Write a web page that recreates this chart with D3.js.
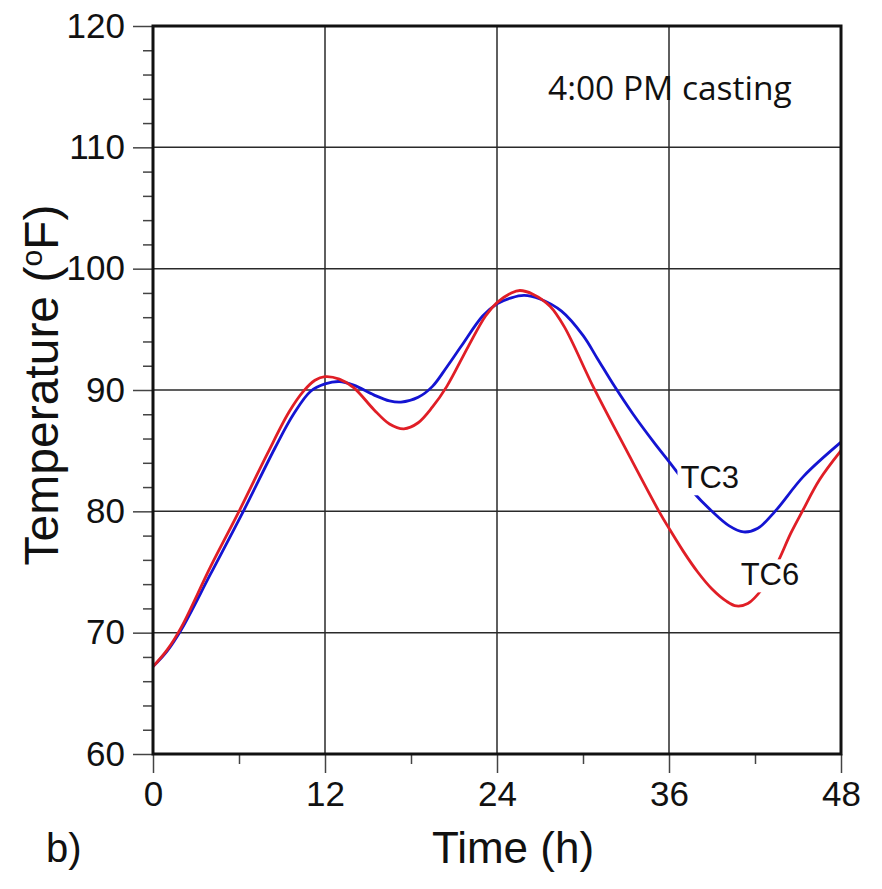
<!DOCTYPE html>
<html><head><meta charset="utf-8">
<script src="https://cdn.jsdelivr.net/npm/d3@7"></script>
<style>body{margin:0;background:#fff}</style></head>
<body>
<svg id="chart" width="882" height="889"></svg>
<script>
// ---- data ----
const timeTC3 = [0, 1, 2, 4, 6.3, 8.5, 9.8, 11, 12, 13, 14, 15.4, 16.5, 17.3, 18.5, 19.5, 20.5, 21.5, 23, 24, 25, 25.9, 27, 28.5, 30, 31, 32.2, 33.5, 35, 36, 37.6, 39, 40.2, 41.2, 42.2, 43.4, 45.4, 48];
const tempTC3 = [67.2, 68.5, 70.3, 74.8, 80, 85.2, 88.0, 89.9, 90.5, 90.7, 90.4, 89.6, 89.1, 89.0, 89.4, 90.3, 91.9, 93.6, 96.1, 97.1, 97.6, 97.8, 97.5, 96.5, 94.5, 92.6, 90.3, 88.0, 85.6, 84.1, 81.7, 80.0, 78.8, 78.3, 78.6, 80, 82.9, 85.7];
const timeTC6 = [0, 1, 2, 4, 6, 8, 9.5, 10.5, 11.3, 12, 13, 14, 15.4, 16.5, 17.5, 18.5, 19.5, 20.5, 22, 23.2, 24, 25, 25.6, 26.5, 27.7, 28.7, 30.7, 33, 35.3, 36, 37, 38, 39, 40, 40.7, 41.5, 42.5, 43.5, 44.5, 45.3, 46.5, 48];
const tempTC6 = [67.2, 68.6, 70.5, 75.4, 80, 84.8, 88.2, 89.9, 90.8, 91.1, 90.9, 90.2, 88.4, 87.2, 86.8, 87.3, 88.6, 90.3, 93.6, 96.1, 97.2, 98.0, 98.2, 97.9, 96.9, 95.2, 90.3, 85.1, 80, 78.6, 76.7, 75.0, 73.6, 72.6, 72.2, 72.4, 73.6, 75.6, 78.2, 80, 82.6, 85.0];
const seriesNames = ["TC3", "TC6"];
const seriesColors = ["#1414d2", "#e01e26"];
const xTickValues = [0, 12, 24, 36, 48];
const xMinorTicks = [6, 18, 30, 42];
const yTickValues = [60, 70, 80, 90, 100, 110, 120];
const yMinorTicks = [62,64,66,68,72,74,76,78,82,84,86,88,92,94,96,98,102,104,106,108,112,114,116,118];
const xTitle = "Time (h)";
const yTitle = "Temperature (";
const annotation = "4:00 PM casting";
const panelLabel = "b)";

// ---- layout ----
const svg = d3.select("#chart");
const L = 153, T = 26, R = 841, B = 754;
const x = d3.scaleLinear().domain([0, 48]).range([L, R]);
const y = d3.scaleLinear().domain([60, 120]).range([B, T]);
const font = "'Liberation Sans', Arial, Helvetica, sans-serif";

// grid
const g = svg.append("g");
g.selectAll(".vg").data(xTickValues.slice(1, -1)).join("line")
  .attr("x1", d => x(d)).attr("x2", d => x(d)).attr("y1", T).attr("y2", B)
  .attr("stroke", "#2a2a2a").attr("stroke-width", 1.5);
g.selectAll(".hg").data(yTickValues.slice(1, -1)).join("line")
  .attr("x1", L).attr("x2", R).attr("y1", d => y(d)).attr("y2", d => y(d))
  .attr("stroke", "#2a2a2a").attr("stroke-width", 1.5);

// axes (outside ticks)
const xAxis = svg.append("g").attr("transform", `translate(0,${B})`)
  .call(d3.axisBottom(x).tickValues(xTickValues).tickSize(19).tickPadding(8).tickFormat(d3.format("d")));
const xMinor = svg.append("g").attr("transform", `translate(0,${B})`)
  .call(d3.axisBottom(x).tickValues(xMinorTicks).tickSize(10).tickFormat(""));
const yAxis = svg.append("g").attr("transform", `translate(${L},0)`)
  .call(d3.axisLeft(y).tickValues(yTickValues).tickSize(20).tickPadding(8).tickFormat(d3.format("d")));
const yMinor = svg.append("g").attr("transform", `translate(${L},0)`)
  .call(d3.axisLeft(y).tickValues(yMinorTicks).tickSize(10).tickFormat(""));
[xAxis, xMinor, yAxis, yMinor].forEach(a => {
  a.select(".domain").remove();
  a.selectAll(".tick line").attr("stroke", "#444").attr("stroke-width", 1.5);
  a.selectAll("text").attr("font-family", font).attr("font-size", 35).attr("fill", "#111");
});
xAxis.selectAll("text").attr("dy", "0.71em");

// lines
const line = d3.line().x(d => x(d[0])).y(d => y(d[1])).curve(d3.curveCatmullRom.alpha(0.5));
const series = [d3.zip(timeTC3, tempTC3), d3.zip(timeTC6, tempTC6)];
series.forEach((s, i) => {
  svg.append("path").datum(s).attr("d", line).attr("fill", "none")
    .attr("stroke", seriesColors[i]).attr("stroke-width", 2.8).attr("stroke-linejoin", "round");
});

// series labels on a white backing (breaks the line like the original)
const labelPos = [[36.8, 81.9], [41.0, 73.9]];
seriesNames.forEach((n, i) => {
  const lg = svg.append("g");
  const bg = lg.append("rect").attr("fill", "#fff");
  const t = lg.append("text").attr("x", x(labelPos[i][0])).attr("y", y(labelPos[i][1]))
    .attr("font-family", font).attr("font-size", 31).attr("fill", "#111").text(n);
  const bb = t.node().getBBox();
  bg.attr("x", bb.x - 3).attr("y", bb.y + 2).attr("width", bb.width + 6).attr("height", bb.height - 2);
});

// frame
svg.append("rect").attr("x", L).attr("y", T).attr("width", R - L).attr("height", B - T)
  .attr("fill", "none").attr("stroke", "#111").attr("stroke-width", 3);

// annotation
svg.append("text").attr("x", 548).attr("y", 100)
  .attr("font-family", "'Open Sans', sans-serif").attr("font-size", 33.5).attr("fill", "#111")
  .text(annotation);

// axis titles
svg.append("text").attr("x", (L + R) / 2 + 16).attr("y", 863).attr("text-anchor", "middle")
  .attr("font-family", font).attr("font-size", 44).attr("fill", "#111").text(xTitle);
const yt = svg.append("text").attr("transform", `translate(58,${(T + B) / 2 - 5}) rotate(-90)`)
  .attr("text-anchor", "middle").attr("font-family", font).attr("font-size", 48).attr("fill", "#111");
yt.append("tspan").text(yTitle);
yt.append("tspan").attr("font-size", 30).attr("dy", -16).text("o");
yt.append("tspan").attr("dy", 16).text("F)");

// panel label
svg.append("text").attr("x", 46).attr("y", 862)
  .attr("font-family", font).attr("font-size", 40).attr("fill", "#111").text(panelLabel);
</script>
</body></html>
